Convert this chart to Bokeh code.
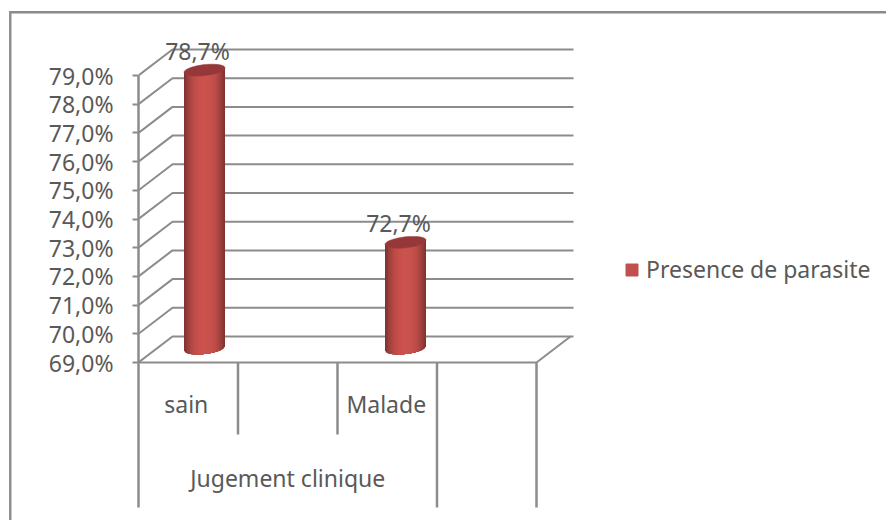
import math
from bokeh.plotting import figure
from bokeh.embed import file_html
from bokeh.resources import INLINE
from bokeh.models import FixedTicker, LinearAxis, Legend, LegendItem, Range1d
from bokeh.core.properties import value

# ---- data -------------------------------------------------------------
categories = ["sain", "Malade"]
group_label = "Jugement clinique"
series_name = "Presence de parasite"
series_values = [78.7, 72.7]
tick_values = [69, 70, 71, 72, 73, 74, 75, 76, 77, 78, 79]
tick_labels = ["69,0%", "70,0%", "71,0%", "72,0%", "73,0%", "74,0%",
               "75,0%", "76,0%", "77,0%", "78,0%", "79,0%"]

# ---- layout (pixels of the picture) -----------------------------------
W, H = 886, 520
FRAME_L = 138
PX_X = 99.5            # px per category slot
PX_Y = 28.7            # px per percent
Y0 = 362               # picture y of 69 %
to_v = lambda py: 69 + (Y0 - py) / PX_Y
to_s = lambda px: (px - FRAME_L) / PX_X
DX = 34 / PX_X         # depth offset
DY = 26 / PX_Y
GREY = "#8c8c8c"
TXT = "#595959"
FONT = "Noto Sans"
FS = "23px"

p = figure(width=W, height=H, output_backend="svg", toolbar_location=None,
           x_range=Range1d(0, to_s(W)), y_range=Range1d(to_v(H), to_v(0)),
           x_axis_type=None, y_axis_type=None, outline_line_color=None,
           min_border_left=FRAME_L, min_border_right=0,
           min_border_top=0, min_border_bottom=0,
           border_fill_color=None, background_fill_color=None)
p.xgrid.visible = False
p.ygrid.visible = False

# outer chart border (left and top edges only are in view)
p.styles = {
    "background": "linear-gradient(#8f8f8f,#8f8f8f) no-repeat 9px 11px / 2.5px 509px,"
                  "linear-gradient(#8a8a8a,#8a8a8a) no-repeat 9px 11px / 877px 2.5px"
}

# y axis, whose line also runs on down as the outer category separator
ax = LinearAxis(ticker=FixedTicker(ticks=tick_values),
                major_label_overrides=dict(zip(tick_values, tick_labels)),
                bounds=(to_v(507), 79),
                axis_line_color=GREY, axis_line_width=2.5,
                major_tick_line_color=GREY, major_tick_line_width=2,
                major_tick_out=6, major_tick_in=0, minor_tick_line_color=None,
                major_label_text_font=FONT, major_label_text_font_size=FS,
                major_label_text_color=TXT, major_label_standoff=19)
p.add_layout(ax, "left")

# gridlines on side and back walls
xs, ys = [], []
for v in tick_values:
    xs.append([0, DX, to_s(573)])
    ys.append([v, v + DY, v + DY])
p.multi_line(xs, ys, line_color=GREY, line_width=2)

# floor front edge and its right side
p.line([0, 4, 4 + DX], [69, 69, 69 + DY], line_color=GREY, line_width=2)

# category separators below the floor
for s, low in [(1, 434), (2, 434), (3, 507), (4, 507)]:
    p.line([s, s], [69, to_v(low)], line_color=GREY, line_width=2.5)

# cylinders: nested outlines, darkest and widest first, so no seams show
BAR_W = 41 / PX_X
RX = BAR_W / 2
RY = 5.5 / PX_Y
TILT = 2.2 / PX_Y
DEPTH = 14 / PX_Y
LAYERS = 14
centres = [to_s(204), to_s(405)]


def shade(k):
    f = 1 - k ** 2.6
    f = 0.62 + 0.36 * f
    return "#%02x%02x%02x" % (int(208 * f), int(84 * f), int(80 * f))


for cx, val in zip(centres, series_values):
    top_c = val + DEPTH
    base_c = 69 + DEPTH
    for j in range(LAYERS):
        k = 1 - j / LAYERS
        n = 24
        arc = [k * (1 - 2 * i / n) for i in range(n + 1)]   # +k to -k
        px = [cx - k * RX, cx + k * RX] + [cx + t * RX for t in arc]
        py = ([top_c - k * TILT, top_c + k * TILT] +
              [base_c + t * TILT - RY * math.sqrt(max(0, 1 - t * t)) for t in arc])
        p.patch(px, py, fill_color=shade(k), line_color=None)
    a = [2 * math.pi * i / 60 for i in range(60)]
    p.patch([cx + RX * math.cos(q) for q in a],
            [top_c + RY * math.sin(q) + TILT * math.cos(q) for q in a],
            fill_color="#96383a", line_color="#96383a", line_width=0.5)

# data labels
p.text(x=[c - 7 / PX_X for c in centres], y=[v + 1.17 for v in series_values],
       text=[("%.1f" % v).replace(".", ",") + "%" for v in series_values],
       text_align="center", text_baseline="middle",
       text_font=value(FONT), text_font_size=FS, text_color=TXT)

# category labels
p.text(x=[0.48, 2.49], y=[to_v(403)] * 2, text=categories, text_align="center",
       text_baseline="middle", text_font=value(FONT), text_font_size=FS,
       text_color=TXT)
p.text(x=[1.5], y=[to_v(477)], text=[group_label], text_align="center",
       text_baseline="middle", text_font=value(FONT), text_font_size=FS,
       text_color=TXT)

# legend
swatch = p.quad(left=[-5], right=[-4], top=[70], bottom=[69],
                fill_color="#c0504d", line_color="#c0504d")
lg = Legend(items=[LegendItem(label=series_name, renderers=[swatch])],
            location=(624 - FRAME_L, H - 285), orientation="vertical",
            border_line_color=None, background_fill_alpha=0,
            padding=0, margin=0, glyph_width=15, glyph_height=15, label_height=24,
            label_standoff=7, label_text_font=FONT, label_text_font_size=FS,
            label_text_color=TXT)
p.add_layout(lg)

open("out.html", "w").write(file_html(p, INLINE))
